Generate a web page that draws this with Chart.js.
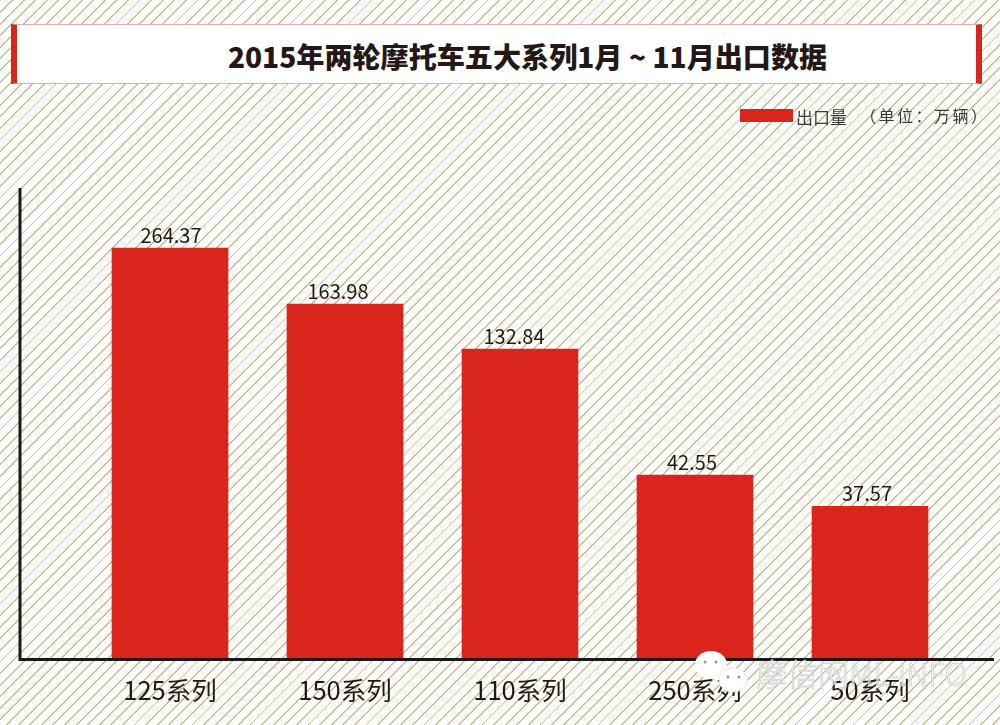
<!DOCTYPE html>
<html>
<head>
<meta charset="utf-8">
<script src="https://cdn.jsdelivr.net/npm/chart.js@4"></script>
<style>
    html, body { margin: 0; padding: 0; }
    body {
        position: relative;
        width: 1000px;
        height: 725px;
        overflow: hidden;
        font-family: "Noto Sans CJK SC", "Noto Sans", sans-serif;
        color: #231815;
        background-color: #fefefc;
        background-image: repeating-linear-gradient(135deg, #c8bf98 0, #c8bf98 1.3px, transparent 1.3px, transparent 8.2px);
    }
    canvas { position: absolute; left: 0; top: 0; }
    .title-box {
        position: absolute;
        left: 11px;
        top: 24px;
        width: 971px;
        height: 60px;
        box-sizing: border-box;
        background: #fff;
        border-top: 1px solid #e3aaa8;
        border-bottom: 1px solid #e3aaa8;
        border-left: 6px solid #da251c;
        border-right: 6px solid #da251c;
        text-align: center;
        font-size: 28.1px;
        font-weight: 900;
        line-height: 62px;
        padding-left: 62px;
        white-space: nowrap;
    }
    .legend-box { position: absolute; left: 740px; top: 109px; width: 53px; height: 13px; background: #da251c; }
    .legend-text { position: absolute; left: 796px; top: 106px; font-size: 17px; line-height: 22px; color: #3a3a3a; white-space: nowrap; }
    .unit-text { position: absolute; left: 860px; top: 104px; font-size: 16px; letter-spacing: 2.5px; line-height: 22px; color: #3a3a3a; white-space: nowrap; }
    .watermark {
        position: absolute;
        left: 756px;
        top: 651px;
        font-size: 31px;
        font-weight: 300;
        line-height: 44px;
        color: rgba(255, 255, 255, 0.35);
        -webkit-text-stroke: 1px #d8d8d8;
        white-space: nowrap;
    }
    .wechat { position: absolute; left: 692px; top: 650px; }
</style>
</head>
<body>
<canvas id="chart" width="1000" height="725"></canvas>
<div class="title-box">2015年两轮摩托车五大系列1月 ~ 11月出口数据</div>
<div class="legend-box"></div>
<div class="legend-text" id="legendText"></div>
<div class="unit-text">（单位：万辆）</div>
<svg class="wechat" width="62" height="50">
    <ellipse cx="19" cy="15" rx="16" ry="14" fill="#fff"/>
    <ellipse cx="41" cy="30" rx="14" ry="12" fill="#fff" stroke="#e8e8e8"/>
    <circle cx="13" cy="12" r="1.5" fill="#999"/>
    <circle cx="24" cy="12" r="1.5" fill="#999"/>
    <circle cx="36" cy="27" r="1.5" fill="#999"/>
    <circle cx="47" cy="27" r="1.5" fill="#999"/>
</svg>
<div class="watermark">摩信网ML-INFO</div>

<script>
const categories = ["125系列", "150系列", "110系列", "250系列", "50系列"];
// values printed above the bars
const printedValues = ["264.37", "163.98", "132.84", "42.55", "37.57"];
// the bars in the source are not proportional to the printed numbers, so these
// are the drawn bar lengths, in units where bar 1 = 264.37
const barLengths = [264.37, 228.4, 199.4, 118.4, 98.4];
const seriesName = "出口量";
const axisMax = 303;

// the source labels sit a little off their bar centres
const labelShift = [1, -7, -6, -3, -3];

document.getElementById("legendText").textContent = seriesName;

// value labels above the bars
const valueLabels = {
    id: "valueLabels",
    afterDatasetsDraw(chart) {
        const ctx = chart.ctx;
        ctx.save();
        ctx.font = '20px "Noto Sans CJK SC", "Noto Sans", sans-serif';
        ctx.fillStyle = "#231815";
        ctx.textAlign = "center";
        ctx.textBaseline = "bottom";
        chart.getDatasetMeta(0).data.forEach((bar, i) => {
            ctx.fillText(printedValues[i], bar.x + labelShift[i], bar.y - 3);
        });
        ctx.restore();
    }
};

// the axis lines run past the category band on both sides
const axisLines = {
    id: "axisLines",
    afterDatasetsDraw(chart) {
        const ctx = chart.ctx;
        const bottom = chart.scales.y.getPixelForValue(0);
        const top = chart.scales.y.getPixelForValue(axisMax);
        ctx.save();
        ctx.strokeStyle = "#1a1a1a";
        ctx.lineWidth = 3;
        ctx.beginPath();
        ctx.moveTo(20, top);
        ctx.lineTo(20, bottom);
        ctx.lineTo(994, bottom);
        ctx.stroke();
        ctx.restore();
    }
};

new Chart(document.getElementById("chart"), {
    type: "bar",
    data: {
        labels: categories,
        datasets: [{
            label: seriesName,
            data: barLengths,
            backgroundColor: "#da251c",
            barThickness: 116
        }]
    },
    options: {
        responsive: false,
        animation: false,
        devicePixelRatio: 1,
        layout: { padding: { left: 82.5, right: 42.5, top: 188, bottom: 11 } },
        plugins: {
            legend: { display: false },
            title: { display: false },
            tooltip: {
                callbacks: { label: (item) => seriesName + ": " + printedValues[item.dataIndex] }
            }
        },
        scales: {
            x: {
                grid: { display: false },
                border: { display: false },
                ticks: {
                    padding: 8,
                    maxRotation: 0,
                    color: "#231815",
                    font: { size: 25.5, family: '"Noto Sans CJK SC", "Noto Sans", sans-serif' }
                }
            },
            y: { display: false, min: 0, max: axisMax }
        }
    },
    plugins: [axisLines, valueLabels]
});
</script>
</body>
</html>
